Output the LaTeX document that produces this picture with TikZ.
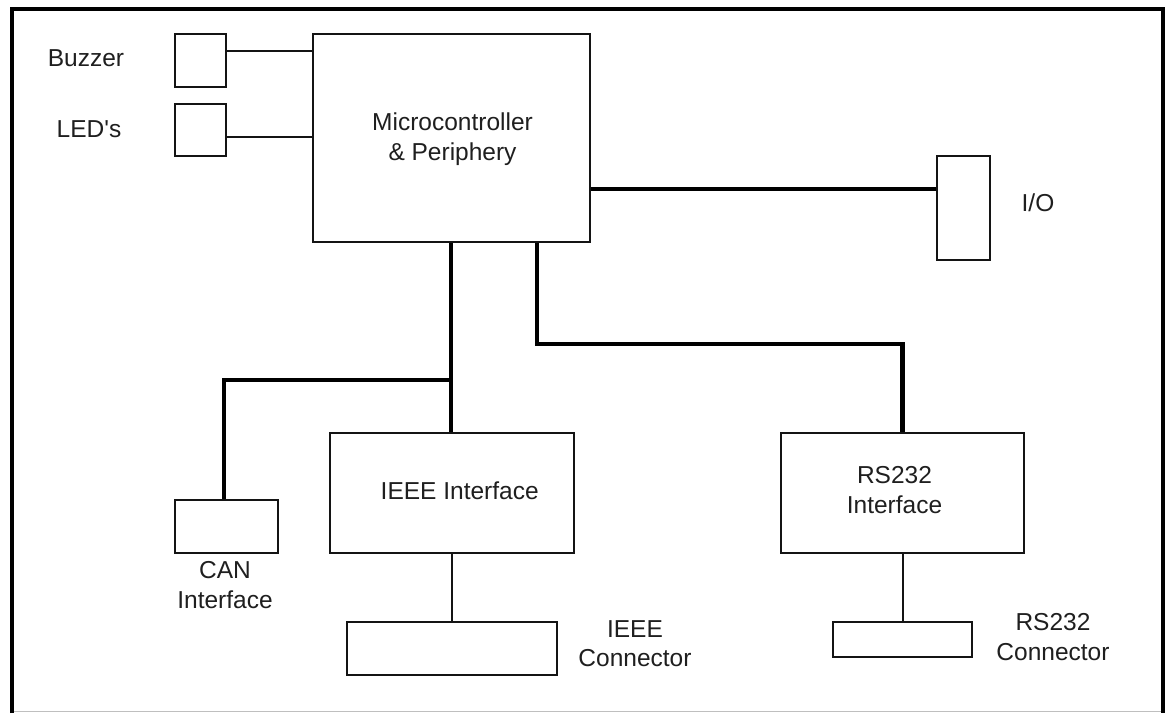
\documentclass[tikz,border=0pt]{standalone}
\usepackage{fontspec}
\setmainfont{Liberation Sans}
\newfontfamily\plainsans{Liberation Sans}
\begin{document}
\begin{tikzpicture}[x=1pt,y=-1pt,
  box/.style={draw=black!92,line width=2pt,inner sep=0pt,fill=white},
  thinline/.style={draw=black!92,line width=2pt},
  thickline/.style={draw=black,line width=4.5pt},
  lbl/.style={inner sep=0pt,anchor=base,align=center,font=\plainsans\fontsize{24.5}{29.5}\selectfont,text=black!88}]
\useasboundingbox (0,0) rectangle (1165,713);
\fill[white] (0,0) rectangle (1165,713);
% frame
\draw[line width=1.5pt,black!25] (12,711.5) -- (1162,711.5);
\draw[line width=4pt,black] (11.5,713) -- (11.5,9) -- (1163,9) -- (1163,713);
% boxes
\node[box,minimum width=51pt,minimum height=53pt] (buzzer) at (200.5,60.5) {};
\node[box,minimum width=51pt,minimum height=52pt] (led) at (200.5,130) {};
\node[box,minimum width=277pt,minimum height=208pt] (micro) at (451.5,138) {};
\node[box,minimum width=53pt,minimum height=104pt] (io) at (963.5,208) {};
\node[box,minimum width=103pt,minimum height=53pt] (can) at (226.5,526.5) {};
\node[box,minimum width=244pt,minimum height=120pt] (ieee) at (452,493) {};
\node[box,minimum width=210pt,minimum height=53pt] (ieeecon) at (452,648.5) {};
\node[box,minimum width=243pt,minimum height=120pt] (rs) at (902.5,493) {};
\node[box,minimum width=139pt,minimum height=35pt] (rscon) at (902.5,639.5) {};
% labels (anchor base = baseline of last line)
\node[lbl] (tbuzzer) at (86,66.7) {Buzzer};
\node[lbl] (tled) at (89,137) {LED's};
\node[lbl] (tmicro) at (452.5,160) {Microcontroller\\\& Periphery};
\node[lbl] (tio) at (1038,211.7) {I/O};
\node[lbl] (tieee) at (459.7,499.3) {IEEE Interface};
\node[lbl] (tcan) at (225,608.3) {CAN\\Interface};
\node[lbl] (tieeecon) at (635,666.7) {IEEE\\Connector};
\node[lbl] (trs) at (894.5,513.3) {RS232\\Interface};
\node[lbl] (trscon) at (1053,660) {RS232\\Connector};
% connectors
\coordinate (j1) at (451,380);
\coordinate (j2) at (537,344);
\draw[thinline] (buzzer.east |- 0,51) -- (micro.west |- 0,51);
\draw[thinline] (led.east |- 0,137) -- (micro.west |- 0,137);
\draw[thickline] (micro.east |- 0,189) -- (io.west |- 0,189);
\draw[thickline] (micro.south -| j1) -- (ieee.north -| j1);
\draw[thickline] (j1) -| (can.north -| 224,0);
\draw[thickline] (micro.south -| j2) -- (j2) -| (rs.north);
\draw[thinline] (ieee.south) -- (ieeecon.north);
\draw[thinline] (rs.south) -- (rscon.north);
\end{tikzpicture}
\end{document}
